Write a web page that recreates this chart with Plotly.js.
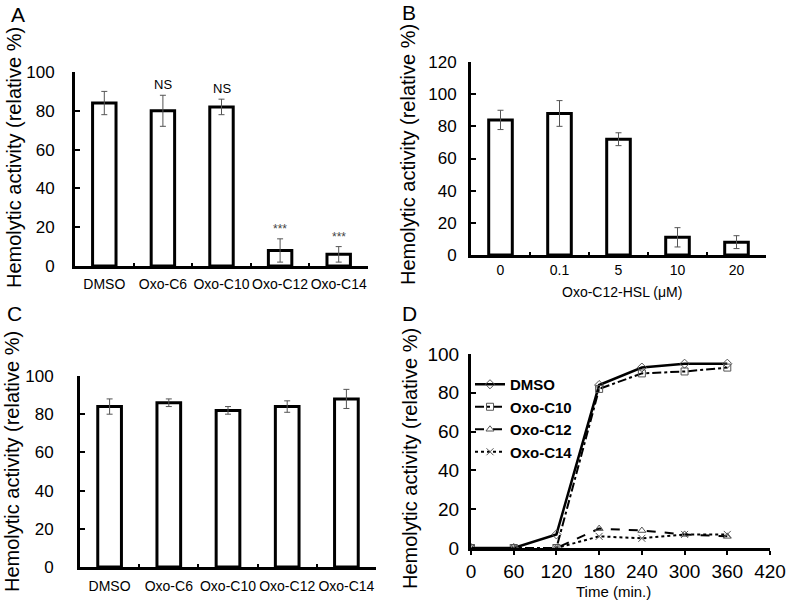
<!DOCTYPE html>
<html>
<head>
<meta charset="utf-8">
<script src="https://cdn.plot.ly/plotly-3.0.1.min.js"></script>
<style>html,body{margin:0;padding:0;background:#fff}#chart{width:787px;height:602px}</style>
</head>
<body>
<div id="chart"></div>
<script>
// ---- data ----
const catsA = ['DMSO', 'Oxo-C6', 'Oxo-C10', 'Oxo-C12', 'Oxo-C14'];
const valsA = [84, 80, 82, 8, 6];
const errA = [6, 8, 4, 6, 4];
const sigA = ['', 'NS', 'NS', '***', '***'];

const catsB = ['0', '0.1', '5', '10', '20'];
const valsB = [84, 88, 72, 11, 8];
const errB = [6, 8, 4, 6, 4];

const catsC = ['DMSO', 'Oxo-C6', 'Oxo-C10', 'Oxo-C12', 'Oxo-C14'];
const valsC = [84, 86, 82, 84, 88];
const errC = [4, 2, 2, 3, 5];

const timeD = [0, 60, 120, 180, 240, 300, 360];
const dmsoD = [0, 0, 7, 84, 93, 95, 95];
const c10D = [0, 0, 0, 82, 90, 91, 93];
const c12D = [0, 0, 0, 10, 9, 7, 6];
const c14D = [0, 0, 0, 6, 5, 7, 7];

const yTitle = 'Hemolytic activity (relative %)';
const FONT = 'Liberation Sans, Arial, sans-serif';

// ---- helpers ----
const W = 787, H = 602;
const px = v => v / W;
const py = v => 1 - v / H;

function barTrace(x, y, e, xa, ya) {
  return {
    type: 'bar', x: x, y: y, xaxis: xa, yaxis: ya, showlegend: false,
    marker: {color: '#ffffff', line: {color: '#000000', width: 3}},
    error_y: {type: 'data', array: e, visible: true, color: '#555555', thickness: 1, width: 3},
    hoverinfo: 'skip'
  };
}

const traces = [
  barTrace(catsA, valsA, errA, 'x', 'y'),
  barTrace(catsB, valsB, errB, 'x2', 'y2'),
  barTrace(catsC, valsC, errC, 'x3', 'y3'),
  {type: 'scatter', mode: 'lines+markers', name: 'DMSO', x: timeD, y: dmsoD, xaxis: 'x4', yaxis: 'y4',
   line: {color: '#000', width: 2.5, dash: 'solid'},
   marker: {symbol: 'diamond-open', size: 7, color: '#555', line: {width: 1}}},
  {type: 'scatter', mode: 'lines+markers', name: 'Oxo-C10', x: timeD, y: c10D, xaxis: 'x4', yaxis: 'y4',
   line: {color: '#000', width: 2, dash: 'dashdot'},
   marker: {symbol: 'square-open', size: 7, color: '#555', line: {width: 1}}},
  {type: 'scatter', mode: 'lines+markers', name: 'Oxo-C12', x: timeD, y: c12D, xaxis: 'x4', yaxis: 'y4',
   line: {color: '#000', width: 2, dash: 'dash'},
   marker: {symbol: 'triangle-up-open', size: 7, color: '#555', line: {width: 1}}},
  {type: 'scatter', mode: 'lines+markers', name: 'Oxo-C14', x: timeD, y: c14D, xaxis: 'x4', yaxis: 'y4',
   line: {color: '#000', width: 2, dash: 'dot'},
   marker: {symbol: 'x-thin-open', size: 7, color: '#555', line: {width: 1}}}
];

function catX(domain, anchor, fontSize, standoff) {
  return {
    domain: domain, anchor: anchor, type: 'category', tickangle: 0,
    showline: true, linecolor: '#000', linewidth: 3, mirror: false,
    ticks: 'inside', tickson: 'boundaries', ticklen: 3, tickwidth: 2, tickcolor: '#000',
    tickfont: {family: FONT, size: fontSize, color: '#000'},
    showgrid: false, zeroline: false, fixedrange: true, ticklabelstandoff: standoff
  };
}
function valY(domain, anchor, range, dtick, fontSize, standoff) {
  return {
    domain: domain, anchor: anchor, range: range, dtick: dtick, tick0: 0,
    showline: true, linecolor: '#000', linewidth: 3,
    ticks: 'inside', ticklen: 5, tickwidth: 2, tickcolor: '#000',
    tickfont: {family: FONT, size: fontSize, color: '#000'},
    showgrid: false, zeroline: false, fixedrange: true, ticklabelstandoff: standoff
  };
}

const annotations = [];
function addLabel(text, x, y, size) {
  annotations.push({xref: 'paper', yref: 'paper', x: px(x), y: py(y), text: text, showarrow: false,
    xanchor: 'center', yanchor: 'middle', font: {family: FONT, size: size, color: '#000'}});
}
function addYTitle(x, y, size) {
  annotations.push({xref: 'paper', yref: 'paper', x: px(x), y: py(y), text: yTitle, showarrow: false,
    textangle: -90, xanchor: 'center', yanchor: 'middle', font: {family: FONT, size: size, color: '#000'}});
}
addLabel('A', 18, 14, 21);
addLabel('B', 409, 12, 21);
addLabel('C', 14, 313, 21);
addLabel('D', 409, 313, 21);
addYTitle(14, 158, 20);
addYTitle(408, 155, 20);
addYTitle(12, 462, 20);
addYTitle(410, 459, 20);
addLabel('Oxo-C12-HSL (μM)', 622, 292, 14);
addLabel('Time (min.)', 613, 591, 15);

sigA.forEach((s, i) => {
  if (!s) return;
  annotations.push({xref: 'x', yref: 'y', x: catsA[i], y: valsA[i] + errA[i], text: s, showarrow: false,
    yanchor: 'bottom', yshift: 1,
    font: {family: FONT, size: s === 'NS' ? 13 : 12, color: s === 'NS' ? '#000' : '#444'}});
});

const layout = {
  width: W, height: H, margin: {l: 0, r: 0, t: 0, b: 0},
  paper_bgcolor: '#fff', plot_bgcolor: 'rgba(0,0,0,0)',
  bargap: 0.6, showlegend: true,
  font: {family: FONT, color: '#000'},
  xaxis: catX([px(75), px(368)], 'y', 14, 3),
  yaxis: valY([py(266), py(72)], 'x', [0, 100], 20, 17, 14),
  xaxis2: catX([px(471), px(766)], 'y2', 14, 0),
  yaxis2: valY([py(255), py(62)], 'x2', [0, 120], 20, 17, 8),
  xaxis3: catX([px(80), px(376)], 'y3', 14, 4),
  yaxis3: valY([py(567), py(376)], 'x3', [0, 100], 20, 17, 20),
  xaxis4: {
    domain: [px(471), px(770)], anchor: 'y4', range: [0, 420], dtick: 60, tick0: 0,
    showline: true, linecolor: '#000', linewidth: 3,
    ticks: 'outside', ticklen: 4, tickwidth: 2, tickcolor: '#000',
    tickfont: {family: FONT, size: 19, color: '#000'},
    showgrid: false, zeroline: false, fixedrange: true, ticklabelstandoff: 0
  },
  yaxis4: valY([py(548), py(354)], 'x4', [0, 100], 20, 19, 5),
  legend: {x: px(470), y: py(368), xanchor: 'left', yanchor: 'top', bgcolor: 'rgba(0,0,0,0)',
    font: {family: FONT, size: 15, color: '#000', weight: 'bold'}, tracegroupgap: 0, itemwidth: 30},
  annotations: annotations
};

Plotly.newPlot('chart', traces, layout, {staticPlot: true, displayModeBar: false});
</script>
</body>
</html>
